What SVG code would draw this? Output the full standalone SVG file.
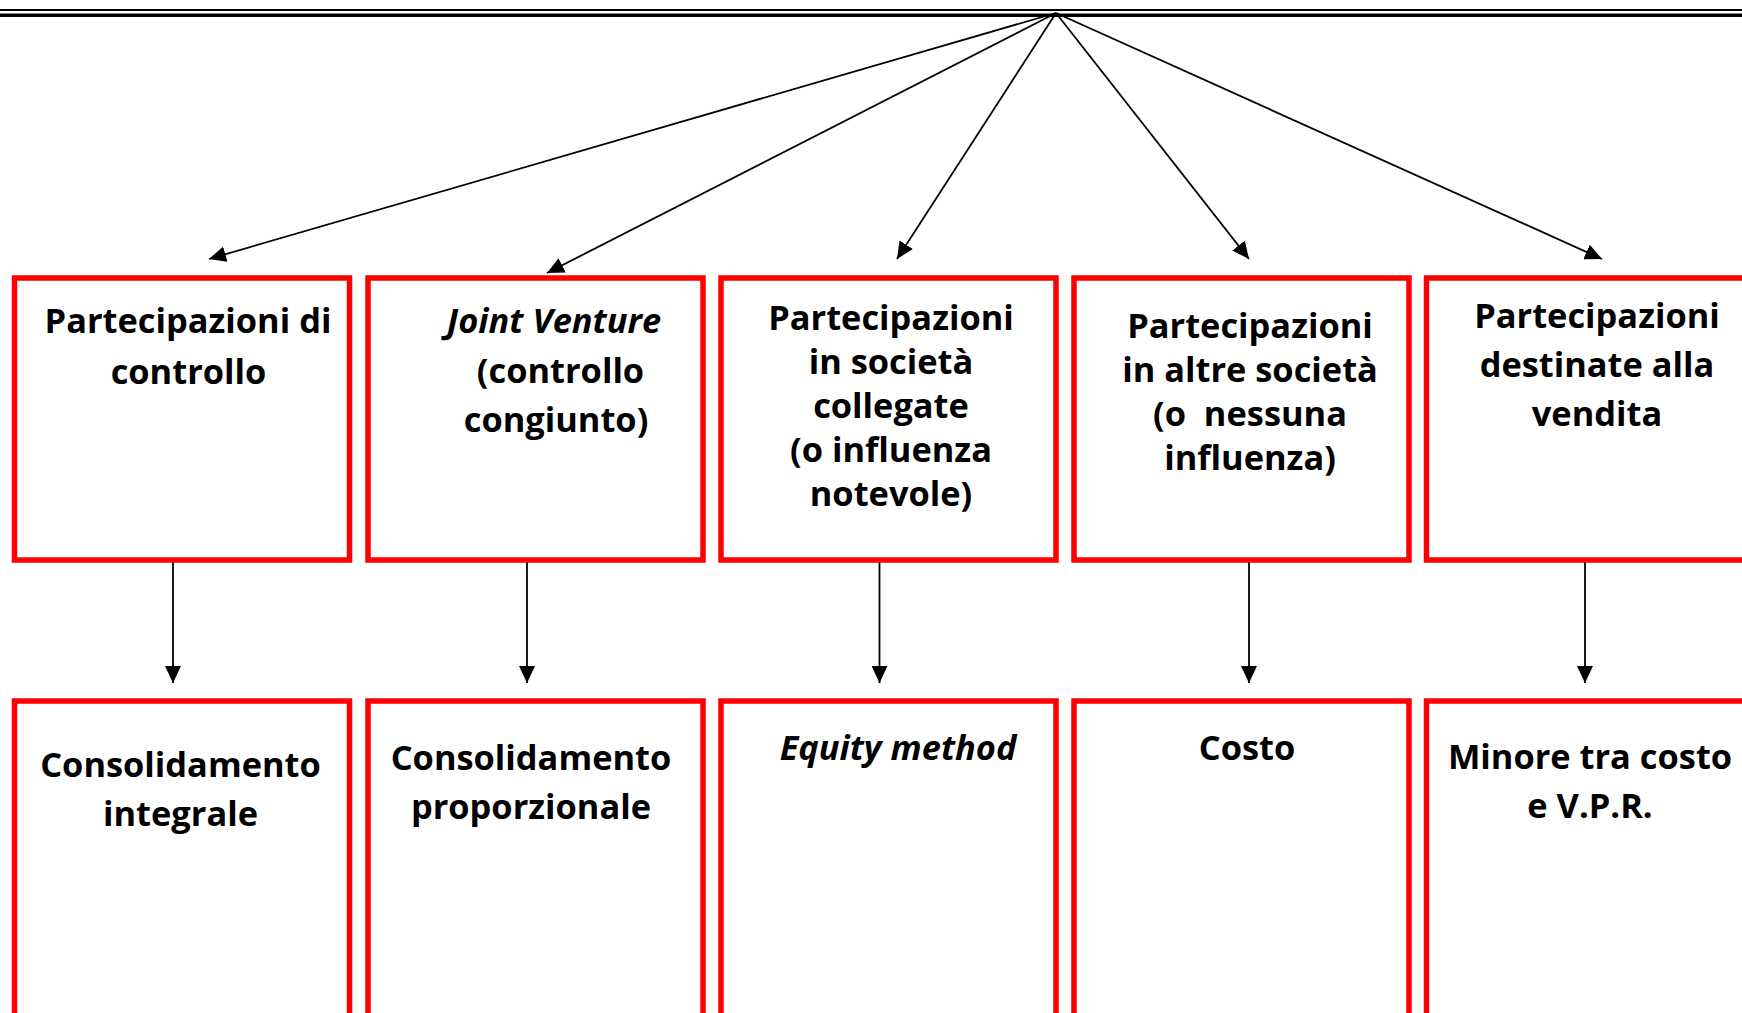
<svg xmlns="http://www.w3.org/2000/svg" width="1742" height="1013" viewBox="0 0 1742 1013">
  <style>
    .box { fill: #ffffff; stroke: #ff0000; stroke-width: 5.5; }
    .conn { stroke: #000000; stroke-width: 1.8; fill: none; }
    .lbl { font-family: "Open Sans", "Liberation Sans", sans-serif; font-weight: bold; font-size: 34.4px; fill: #000000; text-anchor: middle; white-space: pre; }
    .it { font-style: italic; }
  </style>
  <defs>
    <marker id="arrow" viewBox="0 0 17 16" refX="17" refY="8" markerWidth="17" markerHeight="16" markerUnits="userSpaceOnUse" orient="auto">
      <path d="M0,0 L17,8 L0,16 z" fill="#000000"/>
    </marker>
  </defs>

  <rect x="0" y="0" width="1742" height="1013" fill="#ffffff"/>

  <!-- double rule across the top -->
  <g id="top-rule">
    <line x1="0" y1="10" x2="1742" y2="10" stroke="#000000" stroke-width="2.2"/>
    <line x1="0" y1="15.3" x2="1742" y2="15.3" stroke="#000000" stroke-width="3.4"/>
  </g>

  <!-- connectors -->
  <g id="connectors">
    <line class="conn" x1="1056" y1="13" x2="209" y2="259" marker-end="url(#arrow)"/>
    <line class="conn" x1="1056" y1="13" x2="547" y2="273" marker-end="url(#arrow)"/>
    <line class="conn" x1="1056" y1="13" x2="897" y2="259" marker-end="url(#arrow)"/>
    <line class="conn" x1="1056" y1="13" x2="1249" y2="259" marker-end="url(#arrow)"/>
    <line class="conn" x1="1056" y1="13" x2="1602" y2="259" marker-end="url(#arrow)"/>

    <line class="conn" x1="173" y1="561" x2="173" y2="683" marker-end="url(#arrow)"/>
    <line class="conn" x1="527" y1="561" x2="527" y2="683" marker-end="url(#arrow)"/>
    <line class="conn" x1="879.5" y1="561" x2="879.5" y2="683" marker-end="url(#arrow)"/>
    <line class="conn" x1="1249" y1="561" x2="1249" y2="683" marker-end="url(#arrow)"/>
    <line class="conn" x1="1585" y1="561" x2="1585" y2="683" marker-end="url(#arrow)"/>
  </g>

  <!-- upper row: categories of holdings -->
  <g id="controllo">
    <rect class="box" x="14.5" y="278" width="335" height="282"/>
    <text class="lbl" x="188" y="333">Partecipazioni di</text>
    <text class="lbl" x="188.5" y="383.5">controllo</text>
  </g>
  <g id="joint-venture">
    <rect class="box" x="368" y="278" width="335" height="282"/>
    <text class="lbl it" x="554" y="333">Joint Venture</text>
    <text class="lbl" x="560.5" y="383">(controllo</text>
    <text class="lbl" x="556" y="431.5">congiunto)</text>
  </g>
  <g id="collegate">
    <rect class="box" x="721" y="278" width="335" height="282"/>
    <text class="lbl" x="891" y="329.5">Partecipazioni</text>
    <text class="lbl" x="891" y="373.5">in società</text>
    <text class="lbl" x="891" y="417.5">collegate</text>
    <text class="lbl" x="891" y="461.5">(o influenza</text>
    <text class="lbl" x="891" y="505.5">notevole)</text>
  </g>
  <g id="altre-societa">
    <rect class="box" x="1074" y="278" width="335" height="282"/>
    <text class="lbl" x="1250" y="337.5">Partecipazioni</text>
    <text class="lbl" x="1250" y="381.5">in altre società</text>
    <text class="lbl" x="1250" y="425.5">(o  nessuna</text>
    <text class="lbl" x="1250" y="469.5">influenza)</text>
  </g>
  <g id="destinate-vendita">
    <rect class="box" x="1426.5" y="278" width="335" height="282"/>
    <text class="lbl" x="1597" y="327.5">Partecipazioni</text>
    <text class="lbl" x="1597" y="376.5">destinate alla</text>
    <text class="lbl" x="1597" y="425.5">vendita</text>
  </g>

  <!-- lower row: accounting treatments -->
  <g id="consolidamento-integrale">
    <rect class="box" x="14.5" y="701" width="335" height="340"/>
    <text class="lbl" x="180.5" y="776.5">Consolidamento</text>
    <text class="lbl" x="180.5" y="825.5">integrale</text>
  </g>
  <g id="consolidamento-proporzionale">
    <rect class="box" x="368" y="701" width="335" height="340"/>
    <text class="lbl" x="531" y="769.5">Consolidamento</text>
    <text class="lbl" x="531" y="818.5">proporzionale</text>
  </g>
  <g id="equity-method">
    <rect class="box" x="721" y="701" width="335" height="340"/>
    <text class="lbl it" x="898" y="759.5">Equity method</text>
  </g>
  <g id="costo">
    <rect class="box" x="1074" y="701" width="335" height="340"/>
    <text class="lbl" x="1247" y="759.5">Costo</text>
  </g>
  <g id="minore-costo-vpr">
    <rect class="box" x="1426.5" y="701" width="335" height="340"/>
    <text class="lbl" x="1590" y="768.5">Minore tra costo</text>
    <text class="lbl" x="1590" y="817.5">e V.P.R.</text>
  </g>
</svg>
